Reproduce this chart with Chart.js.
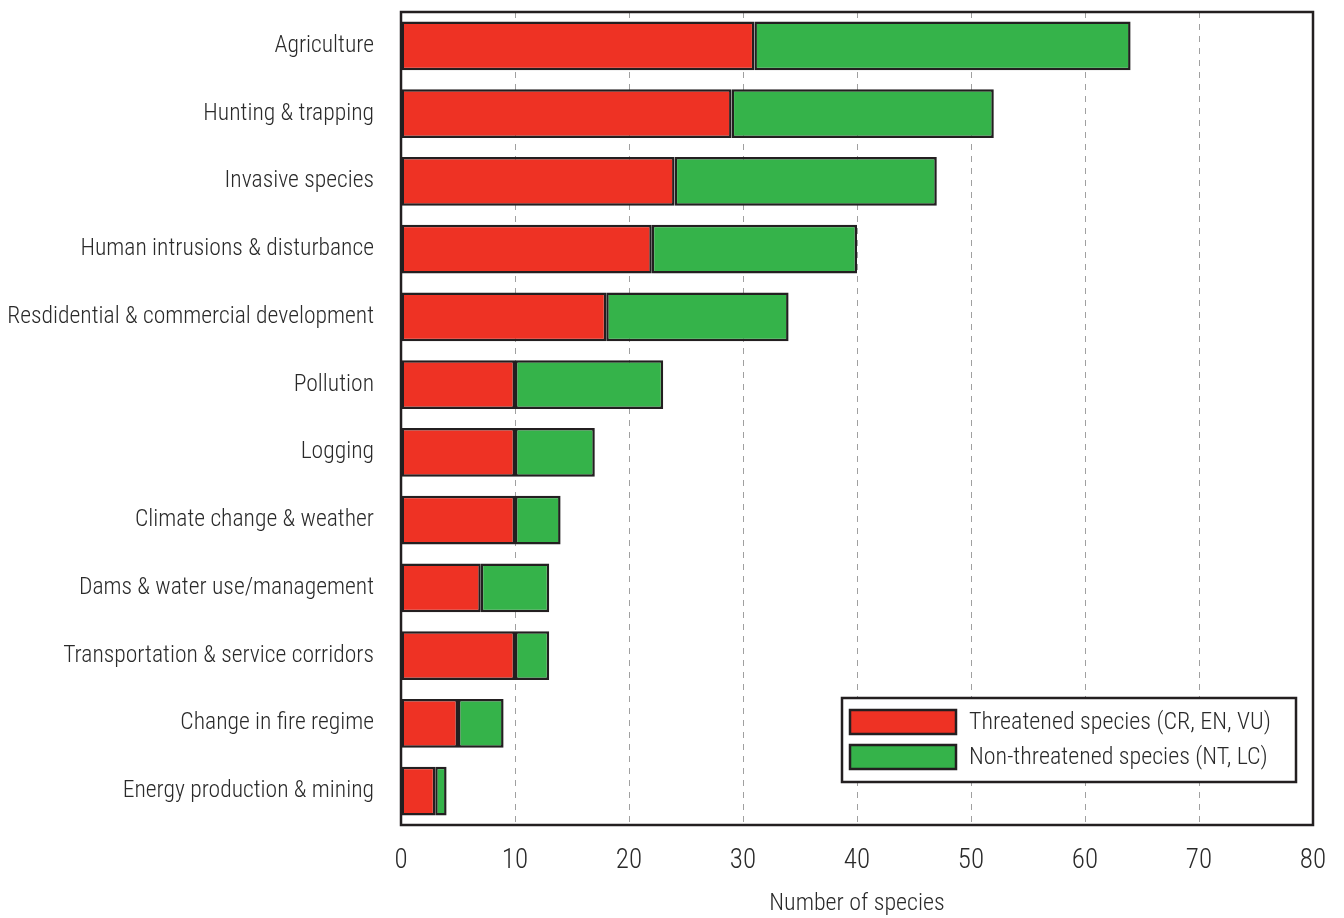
<!DOCTYPE html>
<html>
<head>
<meta charset="utf-8">
<script src="https://cdn.jsdelivr.net/npm/chart.js@4"></script>
<style>
  html, body { margin: 0; padding: 0; background: #fff; }
  #wrap { width: 1344px; height: 918px; position: relative; }
</style>
</head>
<body>
<div id="wrap"><canvas id="chart"></canvas></div>
<script>
var categories = [
    "Agriculture",
    "Hunting & trapping",
    "Invasive species",
    "Human intrusions & disturbance",
    "Resdidential & commercial development",
    "Pollution",
    "Logging",
    "Climate change & weather",
    "Dams & water use/management",
    "Transportation & service corridors",
    "Change in fire regime",
    "Energy production & mining"
];
var threatened = [31, 29, 24, 22, 18, 10, 10, 10, 7, 10, 5, 3];
var nonThreatened = [33, 23, 23, 18, 16, 13, 7, 4, 6, 3, 4, 1];
var seriesNames = ["Threatened species (CR, EN, VU)", "Non-threatened species (NT, LC)"];
var xTicks = [0, 10, 20, 30, 40, 50, 60, 70, 80];

var FONT = "'Liberation Sans Narrow', 'Roboto Condensed', Roboto, sans-serif";
var TEXT = "#2a2a2a";
var EDGE = "#231F20";

// legend box drawn inside the plot, lower right
var boxLegend = {
    id: "boxLegend",
    afterDraw: (chart) => {
        var ctx = chart.ctx;
        var x = 842, y = 698, w = 454, h = 84;
        ctx.save();
        ctx.fillStyle = "#fff";
        ctx.fillRect(x, y, w, h);
        ctx.lineWidth = 2.5;
        ctx.strokeStyle = EDGE;
        ctx.strokeRect(x, y, w, h);
        ctx.font = "300 24px " + FONT;
        ctx.textBaseline = "middle";
        chart.data.datasets.forEach((ds, i) => {
            var sy = y + 12 + i * 35;
            ctx.fillStyle = ds.backgroundColor;
            ctx.fillRect(x + 8, sy, 106, 24);
            ctx.strokeRect(x + 8, sy, 106, 24);
            ctx.fillStyle = TEXT;
            ctx.fillText(ds.label, x + 127, sy + 13);
        });
        ctx.restore();
    }
};

// outline around the plot area
var frame = {
    id: "frame",
    afterDatasetsDraw: (chart) => {
        var a = chart.chartArea, ctx = chart.ctx;
        ctx.save();
        ctx.lineWidth = 2.5;
        ctx.strokeStyle = EDGE;
        ctx.strokeRect(a.left, a.top, a.right - a.left, a.bottom - a.top);
        ctx.restore();
    }
};

var canvas = document.getElementById("chart");
canvas.width = 1344;
canvas.height = 918;

new Chart(canvas, {
    type: "bar",
    data: {
        labels: categories,
        datasets: [
            {
                label: seriesNames[0],
                data: threatened,
                backgroundColor: "#EE3224",
                borderColor: EDGE,
                borderWidth: 2.5,
                borderSkipped: false
            },
            {
                label: seriesNames[1],
                data: nonThreatened,
                backgroundColor: "#35B34A",
                borderColor: EDGE,
                borderWidth: 2.5,
                borderSkipped: false
            }
        ]
    },
    options: {
        indexAxis: "y",
        responsive: false,
        animation: false,
        categoryPercentage: 0.72,
        barPercentage: 1.0,
        layout: { padding: { top: 12, right: 31, left: 0, bottom: 0 } },
        plugins: {
            legend: { display: false },
            tooltip: { enabled: false }
        },
        scales: {
            x: {
                stacked: true,
                min: 0,
                max: 80,
                afterBuildTicks: (scale) => {
                    scale.ticks = xTicks.map((v) => ({ value: v }));
                },
                grid: {
                    color: (c) => (c.tick && (c.tick.value === 0 || c.tick.value === 80)) ? "rgba(0,0,0,0)" : "#a0a0a0",
                    lineWidth: 1,
                    drawTicks: false
                },
                border: { display: false, dash: [6, 6] },
                ticks: {
                    color: TEXT,
                    padding: 20,
                    font: { family: FONT, size: 27, weight: "300" }
                },
                title: {
                    display: true,
                    text: "Number of species",
                    color: TEXT,
                    padding: { top: 8, bottom: 0 },
                    font: { family: FONT, size: 24, weight: "300" }
                },
                afterFit: (scale) => {
                    scale.height = 93;
                    scale.paddingLeft = 0;
                    scale.paddingRight = 0;
                }
            },
            y: {
                stacked: true,
                grid: { display: false, drawTicks: false },
                border: { display: false },
                ticks: {
                    color: TEXT,
                    padding: 27,
                    font: { family: FONT, size: 23.6, weight: "300" }
                },
                afterFit: (scale) => {
                    scale.width = 401;
                    scale.paddingTop = 0;
                    scale.paddingBottom = 0;
                }
            }
        }
    },
    plugins: [frame, boxLegend]
});
</script>
</body>
</html>
